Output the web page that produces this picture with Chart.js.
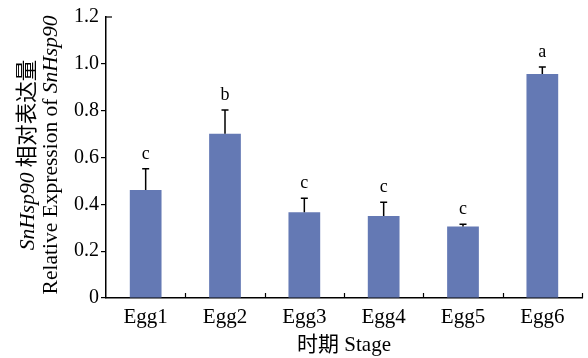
<!DOCTYPE html>
<html>
<head>
<meta charset="utf-8">
<script src="https://cdn.jsdelivr.net/npm/chart.js@4"></script>
<style>
    html, body { margin: 0; padding: 0; background: #fff; }
    #wrap { width: 588px; height: 358px; }
</style>
</head>
<body>
<div id="wrap"><canvas id="stage-chart" width="588" height="358"></canvas></div>
<script>
// Data
const stages = ['Egg1', 'Egg2', 'Egg3', 'Egg4', 'Egg5', 'Egg6'];
const expression = [0.461, 0.701, 0.366, 0.350, 0.305, 0.957];
const errors = [0.091, 0.102, 0.060, 0.059, 0.010, 0.029];
const letters = ['c', 'b', 'c', 'c', 'c', 'a'];
const yMin = 0;
const yMax = 1.2;
const yStep = 0.2;

const serif = "'Liberation Serif', 'Noto Sans CJK SC', serif";
const barColor = '#6479b4';

// Error bars, significance letters, x ticks and y title
const extrasPlugin = {
    id: 'extras',
    afterDatasetsDraw(chart) {
        const ctx = chart.ctx;
        const xScale = chart.scales.x;
        const yScale = chart.scales.y;
        const meta = chart.getDatasetMeta(0);

        ctx.save();
        ctx.strokeStyle = '#000';
        ctx.lineWidth = 1.5;
        ctx.fillStyle = '#000';
        ctx.font = '18px ' + serif;
        ctx.textAlign = 'center';
        ctx.textBaseline = 'alphabetic';

        meta.data.forEach((bar, i) => {
            const x = bar.x;
            const yTop = yScale.getPixelForValue(expression[i] + errors[i]);
            const yBar = yScale.getPixelForValue(expression[i]);
            ctx.beginPath();
            ctx.moveTo(x, yBar);
            ctx.lineTo(x, yTop);
            ctx.moveTo(x - 3.5, yTop);
            ctx.lineTo(x + 3.5, yTop);
            ctx.stroke();
            ctx.fillText(letters[i], x, yTop - 10);
        });

        // inward ticks on the x axis between categories
        const step = xScale.getPixelForValue(1) - xScale.getPixelForValue(0);
        const bottom = chart.chartArea.bottom;
        ctx.lineWidth = 1.2;
        stages.forEach((s, i) => {
            const bx = Math.round(xScale.getPixelForValue(i) + step / 2) + 0.5;
            ctx.beginPath();
            ctx.moveTo(bx, bottom);
            ctx.lineTo(bx, bottom - 5);
            ctx.stroke();
        });

        // small cap at the top of the y axis
        const topY = yScale.getPixelForValue(yMax);
        ctx.beginPath();
        ctx.moveTo(chart.chartArea.left, topY);
        ctx.lineTo(chart.chartArea.left + 6, topY);
        ctx.stroke();
        ctx.restore();
    },
    afterDraw(chart) {
        const ctx = chart.ctx;
        const cy = 155;
        const lines = [
            { x: 28, parts: [['SnHsp90', true], [' 相对表达量', false]] },
            { x: 51, parts: [['Relative Expression of ', false], ['SnHsp90', true]] }
        ];

        ctx.save();
        ctx.fillStyle = '#000';
        ctx.textBaseline = 'middle';
        ctx.textAlign = 'left';
        lines.forEach(line => {
            const fonts = line.parts.map(p => (p[1] ? 'italic ' : '') + '21.5px ' + serif);
            let total = 0;
            const widths = line.parts.map((p, k) => {
                ctx.font = fonts[k];
                const w = ctx.measureText(p[0]).width;
                total += w;
                return w;
            });
            ctx.save();
            ctx.translate(line.x, cy);
            ctx.rotate(-Math.PI / 2);
            let pos = -total / 2;
            line.parts.forEach((p, k) => {
                ctx.font = fonts[k];
                ctx.fillText(p[0], pos, 0);
                pos += widths[k];
            });
            ctx.restore();
        });
        ctx.restore();
    }
};

const chart = new Chart(document.getElementById('stage-chart'), {
    type: 'bar',
    data: {
        labels: stages,
        datasets: [{
            label: 'Relative Expression',
            data: expression,
            backgroundColor: barColor,
            borderWidth: 0,
            barPercentage: 0.4,
            categoryPercentage: 1.0
        }]
    },
    options: {
        responsive: false,
        devicePixelRatio: 1,
        animation: false,
        layout: {
            padding: { top: 17, right: 6, left: 0, bottom: 0 }
        },
        plugins: {
            legend: { display: false },
            tooltip: { enabled: false }
        },
        scales: {
            x: {
                offset: true,
                grid: { display: false, drawTicks: false },
                border: { display: true, color: '#000', width: 1.5 },
                ticks: {
                    color: '#000',
                    padding: 7,
                    font: { family: serif, size: 21 }
                },
                title: {
                    display: true,
                    text: '时期 Stage',
                    color: '#000',
                    padding: { top: 0, bottom: 0 },
                    font: { family: serif, size: 21 }
                },
                afterFit(scale) {
                    scale.height = 60;
                }
            },
            y: {
                min: yMin,
                max: yMax,
                grid: {
                    drawOnChartArea: false,
                    drawTicks: true,
                    tickLength: 5,
                    lineWidth: 1.2,
                    color: c => (c.tick && c.tick.value >= yMax - 0.01 ? 'rgba(0,0,0,0)' : '#000')
                },
                border: { display: true, color: '#000', width: 1.5 },
                ticks: {
                    stepSize: yStep,
                    color: '#000',
                    padding: 2,
                    font: { family: serif, size: 20 },
                    callback: v => (v === 0 ? '0' : v.toFixed(1))
                },
                afterFit(scale) {
                    scale.width = 106;
                }
            }
        }
    },
    plugins: [extrasPlugin]
});
</script>
</body>
</html>
